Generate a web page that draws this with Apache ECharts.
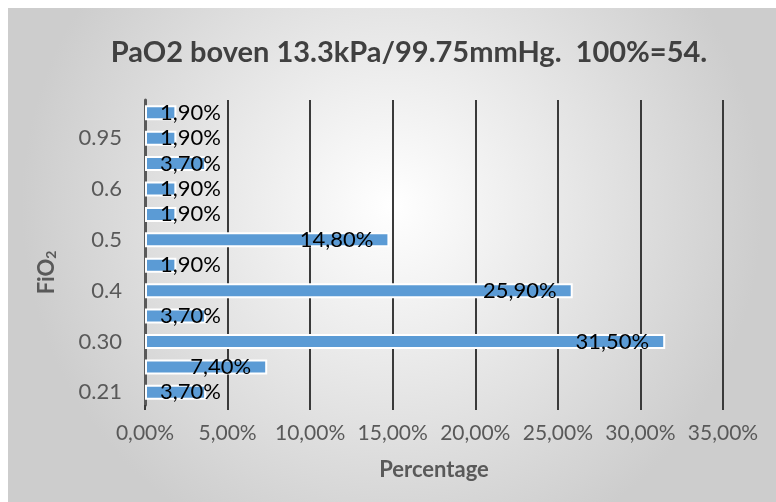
<!DOCTYPE html>
<html>
<head>
<meta charset="utf-8">
<script src="https://cdn.jsdelivr.net/npm/echarts@6/dist/echarts.min.js"></script>
<style>
  html, body { margin: 0; padding: 0; background: #ffffff; }
  #chart { position: absolute; left: 8px; top: 8px; width: 768px; height: 494px; }
</style>
</head>
<body>
<div id="chart"></div>
<script>
// FiO2 levels (bottom to top); only every other one is labelled on the axis
const fio2Levels = ['0.21', '0.25', '0.30', '0.35', '0.4', '0.45', '0.5', '0.55', '0.6', '0.8', '0.95', '1.0'];
// Share of measurements with PaO2 above 13.3 kPa, in percent
const percentages = [3.7, 7.4, 31.5, 3.7, 25.9, 1.9, 14.8, 1.9, 1.9, 3.7, 1.9, 1.9];
// Horizontal axis range and step, in percent
const xMin = 0;
const xMax = 35;
const xStep = 5;

const fmtPct = v => v.toFixed(2).replace('.', ',') + '%';
const gray = '#595959';
const font = 'Lato, "Liberation Sans", sans-serif';

const chart = echarts.init(document.getElementById('chart'));

const barData = percentages.map(v => ({
  value: v,
  label: v < 5
    ? { position: 'insideLeft', distance: 15 }
    : { position: 'insideRight', distance: 16 }
}));

chart.setOption({
  backgroundColor: {
    type: 'radial', x: 0.5, y: 0.4, r: 0.75,
    colorStops: [
      { offset: 0, color: '#ffffff' },
      { offset: 1, color: '#cdcdcd' }
    ]
  },
  title: {
    text: 'PaO2 boven 13.3kPa/99.75mmHg.  100%=54.',
    left: 396,
    textAlign: 'center',
    top: 25,
    textStyle: { fontFamily: font, fontWeight: 'bold', fontSize: 29, color: '#404040' }
  },
  grid: { left: 137, right: 53, top: 92, bottom: 97 },
  xAxis: {
    type: 'value',
    min: xMin,
    max: xMax,
    interval: xStep,
    name: 'Percentage',
    nameLocation: 'middle',
    nameGap: 54,
    nameTextStyle: { fontFamily: font, fontWeight: 'bold', fontSize: 22, color: gray },
    axisLine: { show: false },
    axisTick: { show: true, length: 5, lineStyle: { color: '#3a3a3a', width: 2 } },
    axisLabel: {
      formatter: fmtPct,
      margin: 18,
      fontFamily: font, fontSize: 21, color: gray
    },
    splitLine: { show: true, lineStyle: { color: '#3a3a3a', width: 2 } }
  },
  yAxis: {
    type: 'category',
    data: fio2Levels,
    name: '{b|FiO}{s|2}',
    nameLocation: 'middle',
    nameGap: 87,
    nameTextStyle: {
      padding: [0, 40, 0, 0],
      rich: {
        b: { fontFamily: font, fontWeight: 'bold', fontSize: 22, color: gray },
        s: { fontFamily: font, fontWeight: 'bold', fontSize: 14, color: gray, verticalAlign: 'bottom', padding: [9, 0, 0, 0] }
      }
    },
    axisLine: { show: true, lineStyle: { color: gray, width: 3 } },
    axisTick: { show: false },
    axisLabel: {
      interval: 1,
      margin: 23,
      fontFamily: font, fontSize: 22, color: gray
    },
    splitLine: { show: false }
  },
  series: [{
    type: 'bar',
    data: barData,
    barWidth: 15,
    itemStyle: { color: '#5b9bd5', borderColor: '#ffffff', borderWidth: 2 },
    label: {
      show: true,
      formatter: p => fmtPct(p.value),
      fontFamily: font, fontSize: 22, color: '#000000'
    },
    z: 3
  }]
});
</script>
</body>
</html>
